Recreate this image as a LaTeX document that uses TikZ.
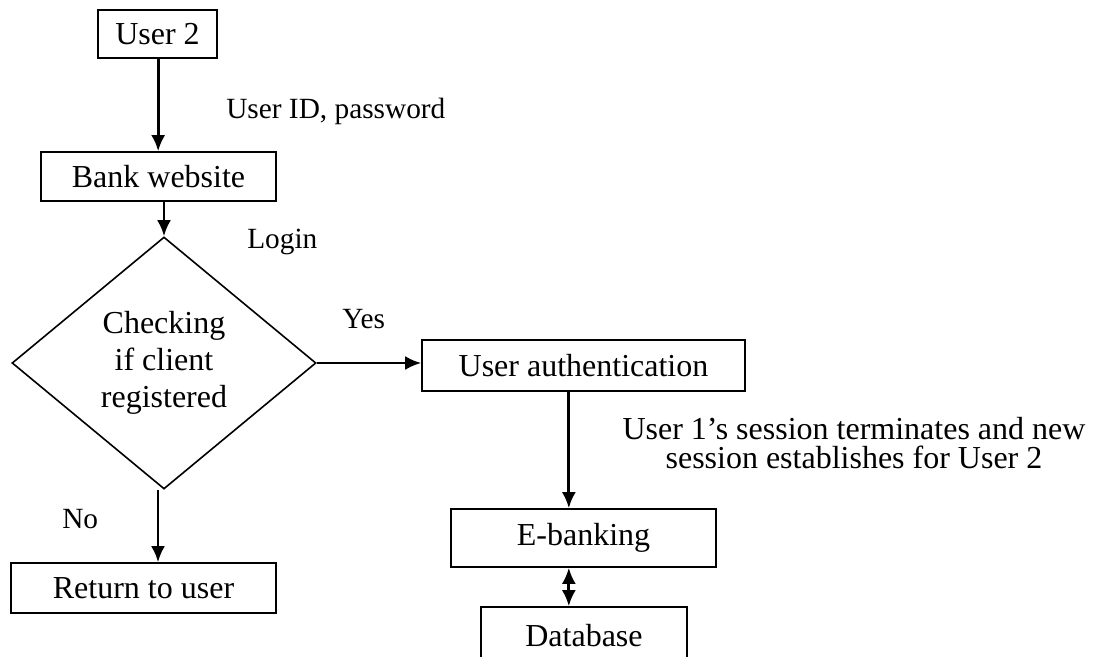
\documentclass[tikz,border=0pt]{standalone}
\usepackage{fontspec}
\setmainfont{Liberation Serif}
\usetikzlibrary{arrows.meta, shapes.geometric}

\begin{document}
\begin{tikzpicture}[
	x=0.75pt, y=-0.75pt,
	>={Latex[length=12pt,width=10.5pt]},
	box/.style={
		draw, % boxes of the flow
		line width=1.2pt,
		rectangle,
		inner sep=0pt,
		anchor=center,
		text centered,
		font=\fontsize{24}{28}\selectfont,
	},
	decision/.style={
		draw,
		line width=1.2pt,
		diamond,
		aspect=1.2,
		inner sep=0pt,
		minimum width=228pt,
		minimum height=189pt,
		align=center,
		font=\fontsize{24}{27.5}\selectfont,
	},
	lbl/.style={inner sep=0pt, font=\fontsize{22}{22}\selectfont},
	note/.style={inner sep=0pt, align=center, font=\fontsize{24}{22}\selectfont},
	flow/.style={->, line width=2.1pt},
]
	\clip (0,0) rectangle (1098,656);

	\node[box, minimum width=89.25pt, minimum height=36pt] (user2) at (157.5,34) {User 2};
	\node[box, minimum width=176.25pt, minimum height=36.75pt] (bank) at (158.5,176.5) {Bank website};
	\node[decision] (check) at (164,363) {Checking\\if client\\registered};
	\node[box, minimum width=198.75pt, minimum height=37.5pt] (ret) at (143.5,588) {Return to user};
	\node[box, minimum width=242.25pt, minimum height=38.25pt] (auth) at (583.5,365.5) {User authentication};
	\node[box, minimum width=198.75pt, minimum height=43.5pt] (ebank) at (583.5,538) {E-banking};
	\node[box, minimum width=154.5pt, minimum height=43.5pt] (db) at (584,636) {Database};

	\node[lbl, anchor=base west] (lid) at (226,118) {User ID, password};
	\node[lbl, anchor=base west] (llogin) at (247,248) {Login};
	\node[lbl, anchor=base west] (lyes) at (342,328) {Yes};
	\node[lbl, anchor=base west] (lno) at (62,528) {No};
	\node[note] (lsess) at (854,443)
		{User 1’s session terminates and new\\session establishes for User 2};

	\draw[flow] ([xshift=0.5pt]user2.south) -- ([xshift=0.5pt]user2.south |- bank.north);
	\draw[flow] (check.north |- bank.south) -- (check.north);
	\draw[flow] (check.east) -- (check.east -| auth.west);
	\draw[flow] ([xshift=-4.5pt]check.south) -- ([xshift=-4.5pt]check.south |- ret.north);
	\draw[flow] ([xshift=-11pt]auth.south) -- ([xshift=-11pt]auth.south |- ebank.north);
	\draw[flow, <->] ([xshift=-11pt]ebank.south) -- ([xshift=-11pt]ebank.south |- db.north);

\end{tikzpicture}
\end{document}
